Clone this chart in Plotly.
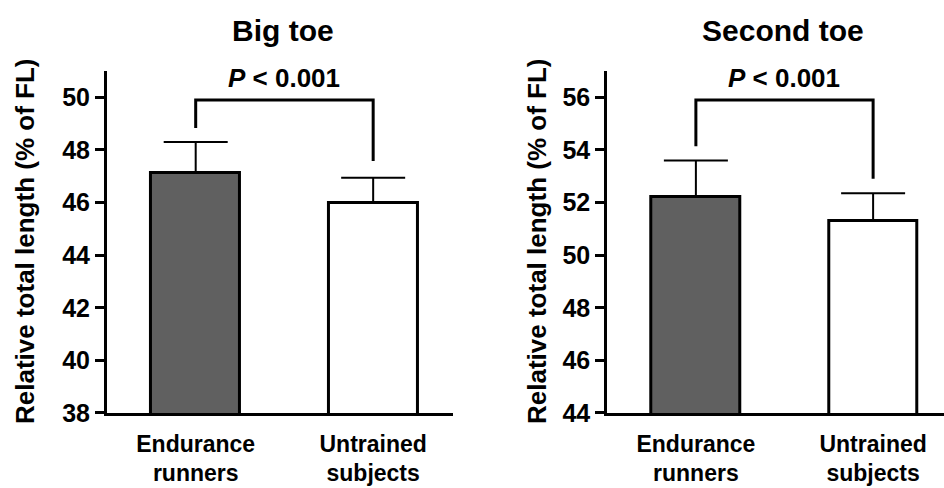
import plotly.graph_objects as go

# Group labels and measurements (mean and upper SD) for each toe
groups = ["Endurance<br>runners", "Untrained<br>subjects"]
group_pos = [0, 1]
bar_colors = ["#606060", "#ffffff"]

big_toe_mean = [47.12, 46.0]
big_toe_sd = [1.18, 0.94]
second_toe_mean = [52.21, 51.3]
second_toe_sd = [1.39, 1.05]

# Significance brackets: leg bottoms and bracket top per panel
big_bracket_y = [48.83, 49.9, 49.9, 47.58]
second_bracket_y = [54.14, 55.9, 55.9, 52.9]
bracket_x = [0, 0, 1, 1]
p_label = "<i>P</i> < 0.001"

titles = ["Big toe", "Second toe"]
ytitle = "Relative total length (% of FL)"
big_ticks = [38, 40, 42, 44, 46, 48, 50]
second_ticks = [44, 46, 48, 50, 52, 54, 56]

FONT = "Arial, Liberation Sans, sans-serif"

fig = go.Figure()

panels = [
    ("x", "y", big_toe_mean, big_toe_sd, big_bracket_y),
    ("x2", "y2", second_toe_mean, second_toe_sd, second_bracket_y),
]
for xa, ya, mean, sd, bry in panels:
    fig.add_trace(go.Bar(
        x=group_pos, y=mean, xaxis=xa, yaxis=ya, width=0.5,
        marker=dict(color=bar_colors, line=dict(color="black", width=3)),
        error_y=dict(type="data", symmetric=False, array=sd,
                     arrayminus=[0, 0], color="black", thickness=2, width=32),
        showlegend=False, hoverinfo="skip",
    ))
    fig.add_trace(go.Scatter(
        x=bracket_x, y=bry, xaxis=xa, yaxis=ya, mode="lines",
        line=dict(color="black", width=3), showlegend=False, hoverinfo="skip",
    ))

axis_common = dict(
    showgrid=False, zeroline=False, showline=True, linecolor="black",
    linewidth=3, automargin=False,
)
xtickfont = dict(size=23, family=FONT, weight="bold")
ytickfont = dict(size=25, family=FONT, weight="bold")
fig.update_layout(
    width=944, height=488,
    margin=dict(l=0, r=0, t=0, b=0),
    paper_bgcolor="white", plot_bgcolor="white",
    font=dict(family=FONT, color="black"),
    bargap=0,
    xaxis=dict(domain=[0.1133, 0.4799], range=[-0.5, 1.45],
               tickvals=group_pos, ticktext=groups, ticks="",
               ticklabelstandoff=8, tickfont=xtickfont,
               anchor="y", **axis_common),
    yaxis=dict(domain=[0.1537, 0.8545], range=[38, 51], tickvals=big_ticks,
               ticks="outside", ticklen=9, tickwidth=3, tickcolor="black",
               tickfont=ytickfont, anchor="x", **axis_common),
    xaxis2=dict(domain=[0.6433, 1.0], range=[-0.5, 1.4],
                tickvals=group_pos, ticktext=groups, ticks="",
                ticklabelstandoff=8, tickfont=xtickfont,
                anchor="y2", **axis_common),
    yaxis2=dict(domain=[0.1537, 0.8545], range=[44, 57], tickvals=second_ticks,
                ticks="outside", ticklen=9, tickwidth=3, tickcolor="black",
                tickfont=ytickfont, anchor="x2", **axis_common),
)

annotations = []
# Panel titles
for xc, t in zip([282.5 / 944, 783 / 944], titles):
    annotations.append(dict(text=t, x=xc, y=1 - 30 / 488, xref="paper",
                            yref="paper", xanchor="center", yanchor="middle",
                            showarrow=False,
                            font=dict(size=30, family=FONT, weight="bold")))
# Rotated y-axis titles
for xc in [25 / 944, 537 / 944]:
    annotations.append(dict(text=ytitle, x=xc, y=1 - 242 / 488, xref="paper",
                            yref="paper", xanchor="center", yanchor="middle",
                            showarrow=False, textangle=-90,
                            font=dict(size=26, family=FONT, weight="bold")))
# P-value labels above brackets
for xa, ya, bry in [("x", "y", big_bracket_y), ("x2", "y2", second_bracket_y)]:
    annotations.append(dict(text=p_label, x=0.5, y=bry[1], xref=xa, yref=ya,
                            yshift=22, xanchor="center", yanchor="middle",
                            showarrow=False,
                            font=dict(size=26, family=FONT, weight="bold")))
fig.update_layout(annotations=annotations)

fig.write_html("out.html")
